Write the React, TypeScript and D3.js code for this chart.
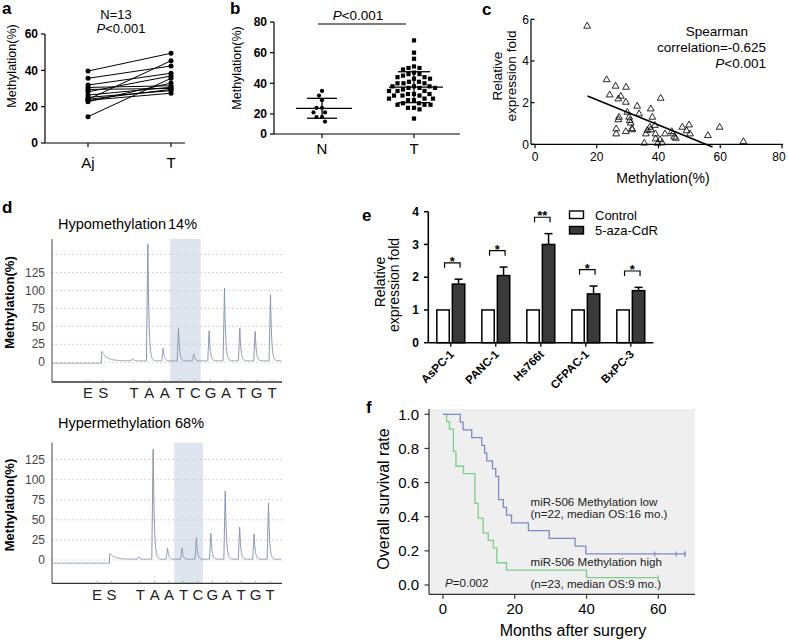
import React from "react";
import * as d3 from "d3";

const FONT = "'Liberation Sans', Arial, Helvetica, sans-serif";

// ---------------- Panel a: paired methylation ----------------
const aGroups = ["Aj", "T"];
const aAdjacent = [39.6, 35.6, 31.9, 30.6, 29.5, 28.2, 26.4, 25.1, 24.0, 24.0, 22.7, 23.5, 14.5];
const aTumor = [49.4, 42.4, 38.4, 31.5, 30.0, 36.9, 30.7, 28.8, 29.5, 45.3, 33.0, 27.4, 35.6];
const aTicks = [0, 20, 40, 60];

// ---------------- Panel b: N vs T dot plot ----------------
const bGroups = ["N", "T"];
const bNormal = [35, 32, 29, 24, 24, 21, 21, 18, 18, 15];
const bTumor = [
  68, 60, 56, 51, 50, 50, 49, 47, 46, 46, 45, 44, 44, 43, 43, 41, 41, 40, 40, 40,
  38, 38, 38, 37, 37, 37, 36, 35, 35, 35, 33, 33, 33, 32, 32, 32, 30, 30, 30, 29,
  29, 27, 27, 26, 26, 26, 24, 24, 23, 17,
];
const bTicks = [0, 20, 40, 60, 80];

// ---------------- Panel c: correlation ----------------
const cMethylation = [
  16.9, 23.2, 26.1, 29.5, 24.2, 27.8, 27, 29.4, 40.7, 33.1, 37.5, 29.9, 33.7, 30.5, 27.2, 27,
  38, 30.7, 31, 31.5, 31.4, 37.2, 37.5, 26.3, 26.3, 29.4, 35.9, 36.4, 38.8, 39, 42.1, 39.1,
  40.5, 41.2, 35.4, 39.7, 44.3, 44.7, 45.1, 45.6, 47.7, 49.9, 49.1, 50.2, 56, 59.8, 67.5,
];
const cExpression = [
  5.62, 3.05, 2.74, 2.69, 2.32, 2.26, 2.13, 1.97, 2.16, 1.78, 1.65, 1.49, 1.41, 1.25, 1.25, 1.13,
  1.25, 1.09, 0.97, 0.65, 0.7, 0.77, 0.65, 0.69, 0.45, 0.56, 0.45, 0.62, 0.86, 0.45, 0.45, 0.21,
  0.17, 0.02, 0.01, 0, 0.56, 0.45, 0.3, 0.24, 0.77, 0.88, 0.6, 0.45, 0.37, 0.77, 0.08,
];
const cFitIntercept = 3.35;
const cFitSlope = -0.0605;
const cFitRange = [17, 57.5];
const cXTicks = [0, 20, 40, 60, 80];
const cYTicks = [0, 2, 4, 6];

// ---------------- Panel d: pyrograms ----------------
const dDispensation = ["E", "S", "", "T", "A", "A", "T", "C", "G", "A", "T", "G", "T"];
const dHypoPeaks = [0, 13, 0, 3, 167, 18, 45, 10, 43, 101, 47, 42, 92];
const dHyperPeaks = [0, 7, 0, 3, 141, 14, 14, 27, 33, 88, 41, 32, 70];
const dYTicks = [0, 25, 50, 75, 100, 125];

// ---------------- Panel e: 5-aza-CdR ----------------
const eCells = ["AsPC-1", "PANC-1", "Hs766t", "CFPAC-1", "BxPC-3"];
const eTreatments = ["Control", "5-aza-CdR"];
const eControl = [1, 1, 1, 1, 1];
const eAza = [1.79, 2.05, 3.0, 1.49, 1.59];
const eAzaErr = [0.15, 0.26, 0.33, 0.24, 0.1];
const eSig = ["*", "*", "**", "*", "*"];
const eYTicks = [0, 1, 2, 3, 4];

// ---------------- Panel f: survival ----------------
const fLowEvents = [4.8, 5.6, 8.0, 10.8, 11.6, 12.2, 13.8, 14.7, 15.5, 15.5, 15.5, 16.8, 17.7, 19.1, 23.8, 29.6, 36.8, 39.8];
const fLowCensored = [59, 65, 67.4, 67.4];
const fHighEvents = [1.0, 1.8, 2.9, 2.9, 2.9, 3.6, 3.6, 5.7, 8.9, 8.9, 8.9, 8.9, 9.8, 9.8, 11.2, 11.2, 12.6, 14.0, 15.0, 15.0, 17.7, 40.0];
const fHighCensored = [60];
const fXTicks = [0, 20, 40, 60];
const fYTicks = [0, 0.2, 0.4, 0.6, 0.8, 1.0];

// ---------------- helpers ----------------
function swarm(values: number[], y: (v: number) => number, cx: number, d: number) {
  const pts = values.map((v) => ({ v, y: y(v), x: cx }));
  const order = [...pts].sort((a, b) => a.y - b.y);
  const placed: { x: number; y: number }[] = [];
  for (const p of order) {
    let best = 0;
    for (let k = 0; k < 400; k++) {
      const off = (k % 2 === 0 ? 1 : -1) * Math.ceil(k / 2) * 0.5;
      const x = cx + off;
      const ok = placed.every((q) => (q.x - x) ** 2 + (q.y - p.y) ** 2 >= d * d);
      if (ok) { best = off; break; }
    }
    p.x = cx + best;
    placed.push({ x: p.x, y: p.y });
  }
  return pts;
}

function meanSd(values: number[]) {
  const m = d3.mean(values)!;
  const s = d3.deviation(values)!;
  return { m, s };
}

function kaplanMeier(events: number[], censored: number[]) {
  const times = Array.from(new Set(events)).sort((a, b) => a - b);
  let s = 1;
  const pts: { t: number; s: number }[] = [{ t: 0, s: 1 }];
  for (const t of times) {
    const dd = events.filter((e) => e === t).length;
    const atRisk = events.filter((e) => e >= t).length + censored.filter((c) => c >= t).length;
    s *= 1 - dd / atRisk;
    pts.push({ t, s });
  }
  const tEnd = Math.max(d3.max(censored) ?? 0, d3.max(events) ?? 0);
  pts.push({ t: tEnd, s });
  const survAt = (t: number) => {
    let v = 1;
    for (const p of pts) if (p.t <= t) v = p.s;
    return v;
  };
  const marks = censored.map((c) => ({ t: c, s: survAt(c) }));
  return { pts, marks };
}

const PanelLabel = ({ x, y, t }: { x: number; y: number; t: string }) => (
  <text x={x} y={y} fontSize={17} fontWeight="bold" fill="#000">{t}</text>
);

// ---------------- Panel a ----------------
function PanelA() {
  const y = d3.scaleLinear().domain([0, 60]).range([143, 34]);
  const x = d3.scalePoint<string>().domain(aGroups).range([88, 171]);
  const xA = x("Aj")!, xT = x("T")!;
  return (
    <g>
      <PanelLabel x={2} y={14} t="a" />
      <text x={116} y={19} fontSize={13} textAnchor="middle">N=13</text>
      <text x={121} y={33} fontSize={13} textAnchor="middle"><tspan fontStyle="italic">P</tspan>{"<0.001"}</text>
      <line x1={45} x2={45} y1={y(60)} y2={y(0)} stroke="#000" strokeWidth={1.2} />
      <line x1={45} x2={185} y1={y(0)} y2={y(0)} stroke="#000" strokeWidth={1.2} />
      {aTicks.map((t) => (
        <g key={t}>
          <line x1={41} x2={45} y1={y(t)} y2={y(t)} stroke="#000" strokeWidth={1.2} />
          <text x={38} y={y(t)} dy="0.35em" textAnchor="end" fontSize={12} fontWeight="bold">{t}</text>
        </g>
      ))}
      {aGroups.map((g) => (
        <g key={g}>
          <line x1={x(g)} x2={x(g)} y1={y(0)} y2={y(0) + 4} stroke="#000" strokeWidth={1.2} />
          <text x={x(g)} y={168} fontSize={15} textAnchor="middle">{g}</text>
        </g>
      ))}
      <text transform={`translate(16,66) rotate(-90)`} fontSize={12.5} textAnchor="middle">Methylation(%)</text>
      {aAdjacent.map((v, i) => (
        <line key={i} x1={xA} x2={xT} y1={y(v)} y2={y(aTumor[i])} stroke="#000" strokeWidth={1} />
      ))}
      {aAdjacent.map((v, i) => <circle key={"a" + i} cx={xA} cy={y(v)} r={2.5} fill="#000" />)}
      {aTumor.map((v, i) => <circle key={"t" + i} cx={xT} cy={y(v)} r={2.5} fill="#000" />)}
    </g>
  );
}

// ---------------- Panel b ----------------
function PanelB() {
  const y = d3.scaleLinear().domain([0, 80]).range([144.6, 22]);
  const x = d3.scalePoint<string>().domain(bGroups).range([322, 414]);
  const axisY = 134;
  const tickY = (t: number) => (t === 0 ? axisY : y(t));
  const nPts = swarm(bNormal, y, x("N")!, 5.4);
  const tPts = swarm(bTumor, y, x("T")!, 5.6);
  const nS = meanSd(bNormal);
  const tS = meanSd(bTumor);
  const xN = x("N")!, xT = x("T")!;
  return (
    <g>
      <PanelLabel x={230} y={14} t="b" />
      <text transform={`translate(241,68) rotate(-90)`} fontSize={12.5} textAnchor="middle">Methylation(%)</text>
      <line x1={274} x2={274} y1={y(80)} y2={axisY} stroke="#000" strokeWidth={1.2} />
      <line x1={274} x2={460} y1={axisY} y2={axisY} stroke="#000" strokeWidth={1.2} />
      {bTicks.map((t) => (
        <g key={t}>
          <line x1={270} x2={274} y1={tickY(t)} y2={tickY(t)} stroke="#000" strokeWidth={1.2} />
          <text x={267} y={tickY(t)} dy="0.35em" textAnchor="end" fontSize={12} fontWeight="bold">{t}</text>
        </g>
      ))}
      {bGroups.map((g) => (
        <g key={g}>
          <line x1={x(g)} x2={x(g)} y1={axisY} y2={axisY + 4} stroke="#000" strokeWidth={1.2} />
          <text x={x(g)} y={153.5} fontSize={15} textAnchor="middle">{g}</text>
        </g>
      ))}
      <line x1={318} x2={406} y1={24} y2={24} stroke="#000" strokeWidth={1.2} />
      <text x={358} y={19.5} fontSize={13.5} textAnchor="middle"><tspan fontStyle="italic">P</tspan>{"<0.001"}</text>
      {nPts.map((p, i) => <circle key={"n" + i} cx={p.x} cy={p.y} r={2.1} fill="#000" />)}
      {tPts.map((p, i) => <rect key={"t" + i} x={p.x - 2.1} y={p.y - 2.1} width={4.2} height={4.2} fill="#000" />)}
      <line x1={xN + 2 - 28} x2={xN + 2 + 28} y1={y(nS.m)} y2={y(nS.m)} stroke="#000" strokeWidth={1.3} />
      <line x1={xN} x2={xN} y1={y(nS.m + nS.s)} y2={y(nS.m - nS.s)} stroke="#000" strokeWidth={1.3} />
      <line x1={xN - 15} x2={xN + 15} y1={y(nS.m + nS.s)} y2={y(nS.m + nS.s)} stroke="#000" strokeWidth={1.3} />
      <line x1={xN - 15} x2={xN + 15} y1={y(nS.m - nS.s)} y2={y(nS.m - nS.s)} stroke="#000" strokeWidth={1.3} />
      <line x1={xT + 2 - 27} x2={xT + 2 + 27} y1={y(tS.m)} y2={y(tS.m)} stroke="#000" strokeWidth={1.3} />
      <line x1={xT} x2={xT} y1={y(tS.m + tS.s)} y2={y(tS.m - tS.s)} stroke="#000" strokeWidth={1.3} />
      <line x1={xT - 16} x2={xT + 16} y1={y(tS.m + tS.s)} y2={y(tS.m + tS.s)} stroke="#000" strokeWidth={1.3} />
      <line x1={xT - 16} x2={xT + 16} y1={y(tS.m - tS.s)} y2={y(tS.m - tS.s)} stroke="#000" strokeWidth={1.3} />
    </g>
  );
}

// ---------------- Panel c ----------------
function PanelC() {
  const x = d3.scaleLinear().domain([0, 80]).range([535, 782]);
  const y = d3.scaleLinear().domain([0, 6]).range([144.3, 19.3]);
  const tri = d3.symbol().type(d3.symbolTriangle).size(20)()!;
  const fit = d3.line<number>().x((v) => x(v)).y((v) => y(cFitIntercept + cFitSlope * v));
  return (
    <g>
      <PanelLabel x={482} y={15} t="c" />
      <text transform={`translate(502,76) rotate(-90)`} fontSize={13.5} textAnchor="middle">Relative</text>
      <text transform={`translate(516,76) rotate(-90)`} fontSize={13.5} textAnchor="middle">expression fold</text>
      <line x1={531} x2={531} y1={y(6)} y2={y(0)} stroke="#000" strokeWidth={1.2} />
      <line x1={531} x2={783} y1={y(0)} y2={y(0)} stroke="#000" strokeWidth={1.2} />
      {cYTicks.map((t) => (
        <g key={t}>
          <line x1={531} x2={534.5} y1={y(t)} y2={y(t)} stroke="#000" strokeWidth={1.2} />
          <text x={529} y={y(t)} dy="0.35em" textAnchor="end" fontSize={12}>{t}</text>
        </g>
      ))}
      {cXTicks.map((t) => (
        <g key={t}>
          <line x1={x(t)} x2={x(t)} y1={y(0)} y2={y(0) + 4} stroke="#000" strokeWidth={1.2} />
          <text x={Math.min(x(t), 779)} y={161} textAnchor="middle" fontSize={12}>{t}</text>
        </g>
      ))}
      <text x={663} y={183} textAnchor="middle" fontSize={14}>Methylation(%)</text>
      {cMethylation.map((m, i) => (
        <path key={i} d={tri} transform={`translate(${x(m)},${y(cExpression[i]) - 1})`} fill="none" stroke="#111" strokeWidth={0.9} />
      ))}
      <path d={fit(cFitRange) || ""} stroke="#000" strokeWidth={1.6} fill="none" />
      <text x={717} y={35.5} textAnchor="middle" fontSize={13.5}>Spearman</text>
      <text x={711.5} y={52} textAnchor="middle" fontSize={13.5}>correlation=-0.625</text>
      <text x={766} y={68} textAnchor="end" fontSize={13.5}><tspan fontStyle="italic">P</tspan>{"<0.001"}</text>
    </g>
  );
}

// ---------------- Panel d ----------------
function Pyro(props: {
  title: string; pct: string; pctX: number; peaks: number[]; top: number; bottom: number;
  y0: number; pxPerUnit: number; xFirst: number; xLast: number; titleY: number; labelY: number;
  preBase: number; postBase: number; gridMax: number;
}) {
  const p = props;
  const x = d3.scalePoint<number>().domain(d3.range(dDispensation.length)).range([p.xFirst, p.xLast]);
  const y = d3.scaleLinear().domain([0, 100]).range([p.y0, p.y0 - 100 * p.pxPerUnit]);
  const step = x.step();
  const axisX = 52, endX = 282;
  const xS = x(1)!;
  const pts: [number, number][] = [];
  for (let px = axisX + 1; px <= endX - 1; px += 0.1) {
    let v: number;
    if (px < xS - 2) v = p.preBase;
    else {
      v = p.postBase;
      p.peaks.forEach((h, i) => {
        if (!h) return;
        const c = x(i)! - 1.5;
        const dx = px - c;
        const tail = i === 1 ? 5 : 1.1;
        v += h * (dx < -1.4 ? 0 : dx <= 0 ? 1 + dx / 1.4 : Math.exp(-dx / tail));
      });
    }
    pts.push([px, y(v)]);
  }
  const line = d3.line();
  const grid = d3.range(0, p.gridMax + 1, 25);
  const shadeX0 = x(6)! - 0.65 * step;
  const shadeX1 = x(7)! + 0.35 * step;
  return (
    <g>
      <text x={58} y={p.titleY} fontSize={14.5}>{p.title}</text>
      <text x={p.pctX} y={p.titleY} fontSize={14.5}>{p.pct}</text>
      <rect x={shadeX0} y={p.top} width={shadeX1 - shadeX0} height={p.bottom - p.top} fill="#dfe5ef" />
      {grid.map((g) => (
        <line key={g} x1={axisX} x2={endX} y1={y(g)} y2={y(g)} stroke="#c9c9c9" strokeWidth={0.8} strokeDasharray="2,2" />
      ))}
      <line x1={axisX} x2={axisX} y1={p.top} y2={p.bottom} stroke="#444" strokeWidth={1} />
      <line x1={axisX} x2={endX} y1={p.bottom} y2={p.bottom} stroke="#333" strokeWidth={1.3} />
      {dDispensation.map((l, i) => (l ? <line key={"k" + i} x1={x(i)} x2={x(i)} y1={p.bottom - 2.5} y2={p.bottom} stroke="#999" strokeWidth={0.8} /> : null))}
      {dYTicks.map((t) => (
        <text key={t} x={45} y={y(t)} dy="0.35em" textAnchor="end" fontSize={12} fill="#444">{t}</text>
      ))}
      <path d={line(pts) || ""} fill="none" stroke="#8796ad" strokeWidth={1} />
      {dDispensation.map((l, i) => (l ? (
        <text key={i} x={x(i)} y={p.labelY} textAnchor="middle" fontSize={15} fill="#222">{l}</text>
      ) : null))}
      <text transform={`translate(14,${(p.top + p.bottom) / 2 - 8}) rotate(-90)`} fontSize={13} fontWeight="bold" textAnchor="middle">Methylation(%)</text>
    </g>
  );
}

function PanelD() {
  return (
    <g>
      <PanelLabel x={2} y={213} t="d" />
      <Pyro title="Hypomethylation" pct="14%" pctX={168} peaks={dHypoPeaks} top={239} bottom={382}
        y0={362.2} pxPerUnit={0.718} xFirst={88} xLast={272} titleY={229} labelY={398}
        preBase={-1.5} postBase={2} gridMax={150} />
      <Pyro title="Hypermethylation" pct="68%" pctX={175} peaks={dHyperPeaks} top={442.7} bottom={583.3}
        y0={560} pxPerUnit={0.804} xFirst={97} xLast={270} titleY={427.5} labelY={600}
        preBase={-4} postBase={1} gridMax={125} />
    </g>
  );
}

// ---------------- Panel e ----------------
function PanelE() {
  const y = d3.scaleLinear().domain([0, 4]).range([342.7, 211.7]);
  const x = d3.scaleBand<string>().domain(eCells).range([428.3, 653.3]).padding(0);
  const xi = d3.scaleBand<string>().domain(eTreatments).range([0, x.bandwidth()]).paddingInner(0.2).paddingOuter(0.55);
  const bw = xi.bandwidth();
  return (
    <g>
      <PanelLabel x={362} y={221} t="e" />
      <text transform={`translate(385,282) rotate(-90)`} fontSize={14} textAnchor="middle">Relative</text>
      <text transform={`translate(399,285) rotate(-90)`} fontSize={14} textAnchor="middle">expression fold</text>
      {eCells.map((c, i) => {
        const x0 = x(c)!;
        const cx0 = x0 + xi("Control")! + bw / 2;
        const cx1 = x0 + xi("5-aza-CdR")! + bw / 2;
        const errTop = eAza[i] + eAzaErr[i];
        const by = y(errTop + 0.5);
        return (
          <g key={c}>
            <rect x={x0 + xi("Control")!} y={y(eControl[i])} width={bw} height={y(0) - y(eControl[i])} fill="#fff" stroke="#000" strokeWidth={1.5} />
            <line x1={cx1} x2={cx1} y1={y(eAza[i])} y2={y(errTop)} stroke="#000" strokeWidth={1.5} />
            <line x1={cx1 - 4} x2={cx1 + 4} y1={y(errTop)} y2={y(errTop)} stroke="#000" strokeWidth={1.5} />
            <rect x={x0 + xi("5-aza-CdR")!} y={y(eAza[i])} width={bw} height={y(0) - y(eAza[i])} fill="#3a3a3a" stroke="#000" strokeWidth={1.5} />
            <path d={`M${cx0 + 1.5},${by + 5}V${by}H${cx1 + 1.5}V${by + 5}`} fill="none" stroke="#000" strokeWidth={1.2} />
            <text x={(cx0 + cx1) / 2 + 1.5} y={by + 3} textAnchor="middle" fontSize={13} fontWeight="bold">{eSig[i]}</text>
            <line x1={x0 + x.bandwidth() / 2} x2={x0 + x.bandwidth() / 2} y1={y(0)} y2={y(0) + 4} stroke="#000" strokeWidth={1.3} />
            <text transform={`translate(${x0 + x.bandwidth() / 2 + 4},${355}) rotate(-45)`} textAnchor="end" fontSize={11.5} fontWeight="bold">{c}</text>
          </g>
        );
      })}
      <line x1={428.3} x2={428.3} y1={y(4)} y2={y(0)} stroke="#000" strokeWidth={1.6} />
      <line x1={428.3} x2={653.3} y1={y(0)} y2={y(0)} stroke="#000" strokeWidth={1.6} />
      {eYTicks.map((t) => (
        <g key={t}>
          <line x1={424} x2={428.3} y1={y(t)} y2={y(t)} stroke="#000" strokeWidth={1.5} />
          <text x={419} y={y(t)} dy="0.35em" textAnchor="end" fontSize={12} fontWeight="bold">{t}</text>
        </g>
      ))}
      <rect x={569.5} y={211} width={14} height={7.5} fill="#fff" stroke="#000" strokeWidth={1.4} />
      <text x={595} y={219.5} fontSize={13}>Control</text>
      <rect x={569.5} y={226.5} width={14} height={7.5} fill="#3a3a3a" stroke="#000" strokeWidth={1.4} />
      <text x={595} y={235} fontSize={13}>5-aza-CdR</text>
    </g>
  );
}

// ---------------- Panel f ----------------
function PanelF() {
  const x = d3.scaleLinear().domain([0, 60]).range([443, 658.3]);
  const y = d3.scaleLinear().domain([0, 1]).range([585, 414.3]);
  const low = kaplanMeier(fLowEvents, fLowCensored);
  const high = kaplanMeier(fHighEvents, fHighCensored);
  const line = d3.line<{ t: number; s: number }>().x((d) => x(d.t)).y((d) => y(d.s)).curve(d3.curveStepAfter);
  const blue = "#7e8ac8";
  const green = "#7fce8a";
  return (
    <g>
      <PanelLabel x={366} y={413} t="f" />
      <rect x={429} y={409} width={266} height={185.3} fill="#efefef" />
      <line x1={429} x2={429} y1={409} y2={594.3} stroke="#333" strokeWidth={1.2} />
      <line x1={429} x2={695} y1={594.3} y2={594.3} stroke="#333" strokeWidth={1.2} />
      {fYTicks.map((t) => (
        <g key={t}>
          <line x1={424.5} x2={429} y1={y(t)} y2={y(t)} stroke="#333" strokeWidth={1.2} />
          <text x={419} y={y(t)} dy="0.35em" textAnchor="end" fontSize={15}>{t.toFixed(1)}</text>
        </g>
      ))}
      {fXTicks.map((t) => (
        <g key={t}>
          <line x1={x(t)} x2={x(t)} y1={594.3} y2={598.8} stroke="#333" strokeWidth={1.2} />
          <text x={x(t)} y={613.5} textAnchor="middle" fontSize={15}>{t}</text>
        </g>
      ))}
      <text transform={`translate(389,499) rotate(-90)`} fontSize={16} textAnchor="middle">Overall survival rate</text>
      <text x={573} y={636} fontSize={16} textAnchor="middle">Months after surgery</text>
      <path d={line(high.pts) || ""} fill="none" stroke={green} strokeWidth={1.3} />
      <path d={line(low.pts) || ""} fill="none" stroke={blue} strokeWidth={1.3} />
      {low.marks.map((m, i) => <line key={"l" + i} x1={x(m.t)} x2={x(m.t)} y1={y(m.s) - 2.5} y2={y(m.s) + 2.5} stroke={blue} strokeWidth={1.2} />)}
      {high.marks.map((m, i) => <line key={"h" + i} x1={x(m.t)} x2={x(m.t)} y1={y(m.s) - 2.5} y2={y(m.s) + 2.5} stroke={green} strokeWidth={1.2} />)}
      <text x={530.5} y={506} fontSize={11.6} fill="#222">miR-506 Methylation low</text>
      <text x={530.5} y={517.5} fontSize={11.6} fill="#222">(n=22, median OS:16 mo.)</text>
      <text x={530.5} y={565.5} fontSize={11.6} fill="#222">miR-506 Methylation high</text>
      <text x={530.5} y={587.5} fontSize={11.6} fill="#222">(n=23, median OS:9 mo.)</text>
      <text x={445} y={586.5} fontSize={11.6} fill="#222"><tspan fontStyle="italic">P</tspan>=0.002</text>
    </g>
  );
}

export default function App() {
  return (
    <svg width={788} height={640} viewBox="0 0 788 640"
      style={{ position: "absolute", left: 0, top: 0, display: "block", background: "#fff" }}
      fontFamily={FONT}>
      <rect width={788} height={640} fill="#fff" />
      <PanelA />
      <PanelB />
      <PanelC />
      <PanelD />
      <PanelE />
      <PanelF />
    </svg>
  );
}
